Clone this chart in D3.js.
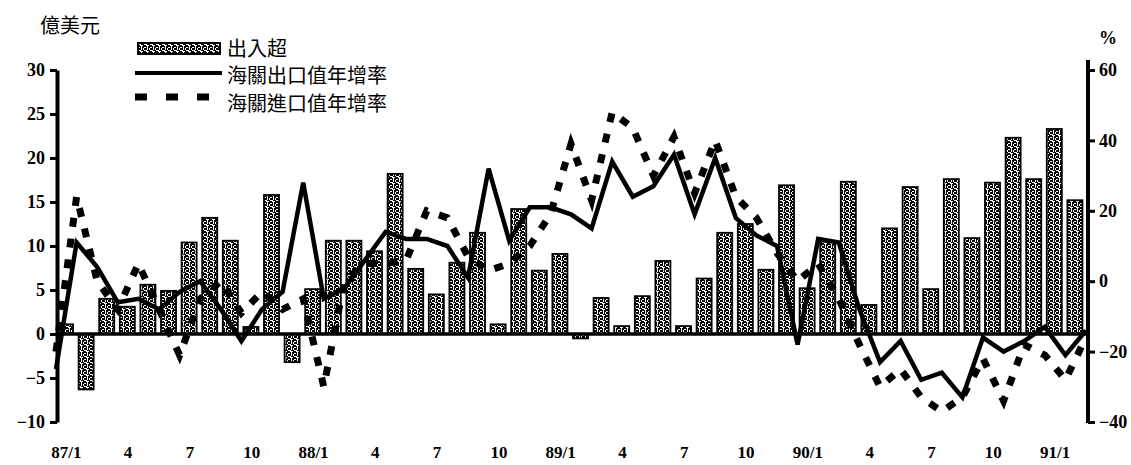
<!DOCTYPE html>
<html>
<head>
<meta charset="utf-8">
<script src="https://cdn.jsdelivr.net/npm/d3@7"></script>
<style>
  body { margin: 0; background: #fff; }
  .tick text { font-family: "Liberation Serif", serif; font-weight: bold; }
</style>
</head>
<body>
<div class="canvas"></div>
<script>
// 出入超 (億美元), 87/1 - 91/2
const balance = [1.1, -6.3, 4.0, 3.1, 5.6, 4.9, 10.4, 13.2, 10.6, 0.8, 15.8, -3.2,
  5.1, 10.6, 10.6, 9.4, 18.2, 7.4, 4.5, 8.1, 11.5, 1.1, 14.2, 7.2,
  9.1, -0.5, 4.1, 0.9, 4.3, 8.3, 0.9, 6.3, 11.5, 12.5, 7.3, 16.9,
  5.2, 10.5, 17.3, 3.3, 12.0, 16.7, 5.1, 17.6, 10.9, 17.2, 22.3, 17.6,
  23.3, 15.2];
// 海關出口值年增率 (%), 87/1 - 91/3
const exportGrowth = [-25, 11, 4, -6, -5, -8, -3, 0, -8, -17, -8, -3,
  28, -5, -2, 6, 14, 12, 12, 10, 1, 32, 11.5, 21,
  21, 19, 15, 34, 24, 27, 36, 19, 35, 18, 13, 10,
  -18, 12, 11, -8, -23, -17, -28, -26, -33, -16, -20, -17,
  -13, -21, -14];
// 海關進口值年增率 (%)
const importGrowth = [-20, 24, 0, -8, 5, -8, -21, -5, 0, -9, -3, -8,
  -5, -30, 0, 5, 5, 6, 20, 18, 7, 3, 5, 10,
  19, 39, 23, 48, 43.5, 30, 41, 25, 40, 24, 18, 8,
  0, 5, -5, -18, -30, -25, -33, -37, -33, -22, -34, -18,
  -21, -28, -16];
const tickLabels = ["87/1", "4", "7", "10", "88/1", "4", "7", "10", "89/1", "4", "7", "10",
  "90/1", "4", "7", "10", "91/1"];
const leftTicks = [-10, -5, 0, 5, 10, 15, 20, 25, 30];
const rightTicks = [-40, -20, 0, 20, 40, 60];

const svg = d3.select('.canvas')
  .append('svg')
  .attr('width', 1131)
  .attr('height', 465);

// stipple fill for the bars (about half black)
const pat = svg.append('defs').append('pattern')
  .attr('id', 'stipple')
  .attr('width', 6).attr('height', 6)
  .attr('patternUnits', 'userSpaceOnUse');
pat.append('rect').attr('width', 6).attr('height', 6).attr('fill', '#fff');
[[0, 0, 3, 2], [4, 0, 1, 2], [3, 2, 3, 1], [0, 3, 2, 2], [2, 4, 1, 2], [4, 4, 2, 2], [5, 3, 1, 1]].forEach(r => {
  pat.append('rect').attr('x', r[0]).attr('y', r[1]).attr('width', r[2]).attr('height', r[3]).attr('fill', '#000');
});

const x = d3.scaleLinear().domain([0, 50]).range([56, 1086]);
const step = x(1) - x(0);
const yL = d3.scaleLinear().domain([-10, 30]).range([422, 70]);
const yR = d3.scaleLinear().domain([-40, 60]).range([422, 70]);

// bars
svg.append('g').selectAll('rect')
  .data(balance)
  .enter()
  .append('rect')
  .attr('x', (d, i) => x(i) + 2)
  .attr('width', step * 0.73)
  .attr('y', d => yL(Math.max(0, d)))
  .attr('height', d => Math.abs(yL(d) - yL(0)))
  .attr('fill', 'url(#stipple)')
  .attr('stroke', '#000')
  .attr('stroke-width', 1.8);

// zero line
svg.append('line')
  .attr('x1', x(0)).attr('x2', x(50) + 2)
  .attr('y1', yL(0)).attr('y2', yL(0))
  .attr('stroke', '#000').attr('stroke-width', 3.5);

const line = d3.line()
  .x((d, i) => x(i))
  .y(d => yR(d));

svg.append('path')
  .datum(importGrowth)
  .attr('d', line)
  .attr('fill', 'none')
  .attr('stroke', '#000')
  .attr('stroke-width', 7)
  .attr('stroke-dasharray', '9,12');

svg.append('path')
  .datum(exportGrowth)
  .attr('d', line)
  .attr('fill', 'none')
  .attr('stroke', '#000')
  .attr('stroke-width', 4.5)
  .attr('stroke-linejoin', 'miter');

// axes
const leftAxis = svg.append('g')
  .attr('transform', 'translate(57,0)')
  .call(d3.axisLeft(yL).tickValues(leftTicks).tickSize(7).tickSizeOuter(0).tickPadding(5));
const rightAxis = svg.append('g')
  .attr('transform', 'translate(1088,0)')
  .call(d3.axisRight(yR).tickValues(rightTicks).tickSize(7).tickSizeOuter(0).tickPadding(4));
[leftAxis, rightAxis].forEach(a => {
  a.select('.domain').attr('stroke-width', 4);
  a.selectAll('.tick line').attr('stroke-width', 3);
  a.selectAll('.tick text').style('font-size', '18px').attr('fill', '#000');
});
rightAxis.select('.domain').attr('d', 'M0,60V423');

// month labels
svg.append('g').selectAll('text')
  .data(tickLabels)
  .enter()
  .append('text')
  .attr('x', (d, k) => x(k * 3) + step / 2)
  .attr('y', 458)
  .attr('text-anchor', 'middle')
  .style('font-family', '"Liberation Serif", serif')
  .style('font-weight', 'bold')
  .style('font-size', '17px')
  .text(d => d);

// unit labels
svg.append('text')
  .attr('x', 40).attr('y', 33)
  .style('font-family', '"Noto Sans CJK TC", sans-serif')
  .style('font-size', '20px')
  .text('億美元');
svg.append('text')
  .attr('x', 1099).attr('y', 44)
  .style('font-family', '"Liberation Serif", serif')
  .style('font-weight', 'bold')
  .style('font-size', '18px')
  .text('%');

// legend
const legend = svg.append('g').style('font-family', '"Noto Sans CJK TC", sans-serif').style('font-size', '20px');
legend.append('rect')
  .attr('x', 138).attr('y', 43).attr('width', 82).attr('height', 11)
  .attr('fill', 'url(#stipple)').attr('stroke', '#000').attr('stroke-width', 2);
legend.append('line')
  .attr('x1', 135).attr('x2', 222).attr('y1', 73).attr('y2', 73)
  .attr('stroke', '#000').attr('stroke-width', 4);
legend.append('line')
  .attr('x1', 135).attr('x2', 212).attr('y1', 97).attr('y2', 97)
  .attr('stroke', '#000').attr('stroke-width', 7).attr('stroke-dasharray', '12,19');
legend.append('text').attr('x', 227).attr('y', 56).text('出入超');
legend.append('text').attr('x', 227).attr('y', 83).text('海關出口值年增率');
legend.append('text').attr('x', 227).attr('y', 111).text('海關進口值年增率');
</script>
</body>
</html>
